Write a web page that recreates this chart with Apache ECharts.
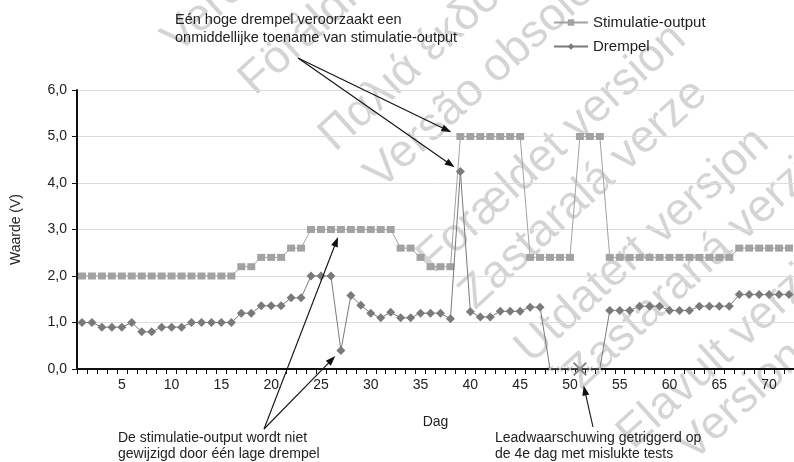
<!DOCTYPE html>
<html><head><meta charset="utf-8">
<script src="https://cdn.jsdelivr.net/npm/echarts@6/dist/echarts.min.js"></script>
<style>html,body{margin:0;padding:0;background:#fff}#c{width:794px;height:462px}</style>
</head><body><div id="c"></div>
<script>
// ---- data ----
const days = [];
for (let d = 1; d <= 72; d++) days.push(String(d));
const xTickLabels = ['5','10','15','20','25','30','35','40','45','50','55','60','65','70'];
const yTickValues = [0, 1, 2, 3, 4, 5, 6];
const stimulatieOutput = [
  2.0,2.0,2.0,2.0,2.0,2.0,2.0,2.0,2.0,2.0,2.0,2.0,2.0,2.0,2.0,2.0,
  2.2,2.2,2.4,2.4,2.4,2.6,2.6,
  3.0,3.0,3.0,3.0,3.0,3.0,3.0,3.0,3.0,
  2.6,2.6,2.4,2.2,2.2,2.2,
  5.0,5.0,5.0,5.0,5.0,5.0,5.0,
  2.4,2.4,2.4,2.4,2.4,
  5.0,5.0,5.0,
  2.4,2.4,2.4,2.4,2.4,2.4,2.4,2.4,2.4,2.4,2.4,2.4,2.4,
  2.6,2.6,2.6,2.6,2.6,2.6
];
const drempel = [
  1.0,1.0,0.9,0.9,0.9,1.0,0.8,0.8,0.9,0.9,0.9,1.0,1.0,1.0,1.0,1.0,
  1.2,1.2,1.36,1.36,1.36,1.53,1.53,
  2.0,2.0,2.0,0.4,1.58,1.37,1.2,1.1,1.22,1.1,1.1,1.2,1.2,1.2,1.08,
  4.25,1.23,1.12,1.12,1.24,1.24,1.24,1.33,1.33,
  0,0,0,0,0,0,
  1.26,1.26,1.26,1.35,1.35,1.35,1.26,1.26,1.26,1.35,1.35,1.35,1.35,
  1.6,1.6,1.6,1.6,1.6,1.6
];
const failedDays = ['48','49','50','51','52','53'];
const warningDay = '51';
const seriesNames = ['Stimulatie-output', 'Drempel'];
const noteTop = 'Eén hoge drempel veroorzaakt een\nonmiddellijke toename van stimulatie-output';
const noteLow = 'De stimulatie-output wordt niet\ngewijzigd door één lage drempel';
const noteLead = 'Leadwaarschuwing getriggerd op\nde 4e dag met mislukte tests';
const watermarks = [
  'Verouderde versie','Föråldrad version','Παλιά έκδοση','Versão obsoleta','Forældet version',
  'Zastaralá verze','Utdatert versjon','Zastaraná verzia','Elavult verzió','Versione obsoleta'
];

// ---- chart ----
const FONT = '"Liberation Sans", Arial, sans-serif';
const xPath = 'path://M0,1 L1,0 L5,4 L9,0 L10,1 L6,5 L10,9 L9,10 L5,6 L1,10 L0,9 L4,5 Z';
const drempelData = drempel.map((v, i) => {
  const d = days[i];
  if (d === warningDay) return {value: v, symbol: xPath, symbolSize: 14, itemStyle: {color: '#8a8a8a'}};
  if (failedDays.indexOf(d) >= 0) return {value: v, symbol: xPath, symbolSize: 6, itemStyle: {color: '#b4b4b4'}};
  return v;
});

const wmPos = [[185,62],[262,104],[342,160],[388,198],[440,282],[482,318],[538,372],[588,398],[640,458],[700,470]];
const wmGraphics = watermarks.map((t, i) => ({
  type: 'text', x: wmPos[i][0], y: wmPos[i][1], rotation: 0.74, z: -10, silent: true,
  style: {text: t, fill: 'rgba(0,0,0,0.17)', font: '46px ' + FONT, textAlign: 'left', textVerticalAlign: 'bottom'}
}));

const chart = echarts.init(document.getElementById('c'), null, {renderer: 'canvas'});
const option = {
  animation: false,
  backgroundColor: '#fff',
  textStyle: {fontFamily: FONT},
  grid: {left: 77, top: 90, width: 720, height: 279, containLabel: false},
  legend: {
    data: seriesNames, orient: 'vertical', left: 548, top: 10,
    itemWidth: 34, itemHeight: 8, itemGap: 9,
    textStyle: {fontSize: 15, color: '#222', fontFamily: FONT}
  },
  xAxis: {
    type: 'category', data: days, boundaryGap: true,
    name: 'Dag', nameLocation: 'middle', nameGap: 46,
    nameTextStyle: {fontSize: 14, color: '#222', fontFamily: FONT},
    axisLine: {lineStyle: {color: '#111', width: 2}},
    axisTick: {show: true, interval: 0, length: 5, lineStyle: {color: '#111', width: 1}},
    axisLabel: {
      interval: (idx, val) => xTickLabels.indexOf(val) >= 0,
      margin: 9, fontSize: 14, color: '#222', fontFamily: FONT
    },
    splitLine: {show: false}
  },
  yAxis: {
    type: 'value', min: 0, max: 6, interval: 1,
    name: 'Waarde (V)', nameLocation: 'middle', nameGap: 54,
    nameTextStyle: {fontSize: 14, color: '#222', fontFamily: FONT},
    axisLine: {show: true, lineStyle: {color: '#111', width: 2}},
    axisTick: {show: true, length: 5, lineStyle: {color: '#111'}},
    axisLabel: {
      margin: 10, fontSize: 14, color: '#222', fontFamily: FONT,
      formatter: v => (yTickValues.indexOf(v) >= 0 ? v.toFixed(1).replace('.', ',') : '')
    },
    splitLine: {lineStyle: {color: '#dcdcdc', width: 1}}
  },
  series: [
    {
      name: seriesNames[0], type: 'line', data: stimulatieOutput,
      symbol: 'rect', symbolSize: [8, 7], showAllSymbol: true,
      lineStyle: {color: '#a2a2a2', width: 1}, itemStyle: {color: '#a2a2a2'}, z: 2
    },
    {
      name: seriesNames[1], type: 'line', data: drempelData,
      symbol: 'diamond', symbolSize: 9, showAllSymbol: true,
      lineStyle: {color: '#7a7a7a', width: 1}, itemStyle: {color: '#7a7a7a'}, z: 3
    }
  ],
  graphic: wmGraphics
};
chart.setOption(option);

// ---- annotations with arrows pointing at data marks ----
function px(dayIdx, val) { return chart.convertToPixel({gridIndex: 0}, [dayIdx, val]); }
function arrow(from, target, shorten) {
  const dx = target[0] - from[0], dy = target[1] - from[1];
  const len = Math.sqrt(dx * dx + dy * dy);
  const ux = dx / len, uy = dy / len;
  const tip = [target[0] - ux * shorten, target[1] - uy * shorten];
  const hl = 10, hw = 3.5;
  const base = [tip[0] - ux * hl, tip[1] - uy * hl];
  return [
    {type: 'line', z: 20, shape: {x1: from[0], y1: from[1], x2: base[0] + ux * 2, y2: base[1] + uy * 2},
     style: {stroke: '#111', lineWidth: 1.1}},
    {type: 'polygon', z: 20, shape: {points: [tip, [base[0] - uy * hw, base[1] + ux * hw], [base[0] + uy * hw, base[1] - ux * hw]]},
     style: {fill: '#111'}}
  ];
}
const iPeak = days.indexOf('39');
const iLow = days.indexOf('27');
const iWarn = days.indexOf(warningDay);
const arrows = [].concat(
  arrow([298, 58], px(iPeak, stimulatieOutput[iPeak]), 10),
  arrow([298, 58], px(iPeak, drempel[iPeak]), 7),
  arrow([264, 429], px(iLow, stimulatieOutput[iLow]), 8),
  arrow([264, 429], px(iLow, drempel[iLow]), 8),
  arrow([593, 427], px(iWarn, drempel[iWarn]), 17)
);
const texts = [
  {type: 'text', x: 175, y: 11, z: 20, style: {text: noteTop, font: '14.5px ' + FONT, fill: '#222', lineHeight: 18}},
  {type: 'text', x: 118, y: 430, z: 20, style: {text: noteLow, font: '14px ' + FONT, fill: '#222', lineHeight: 16}},
  {type: 'text', x: 495, y: 430, z: 20, style: {text: noteLead, font: '14px ' + FONT, fill: '#222', lineHeight: 16}}
];
chart.setOption({graphic: wmGraphics.concat(arrows, texts)});
</script></body></html>
